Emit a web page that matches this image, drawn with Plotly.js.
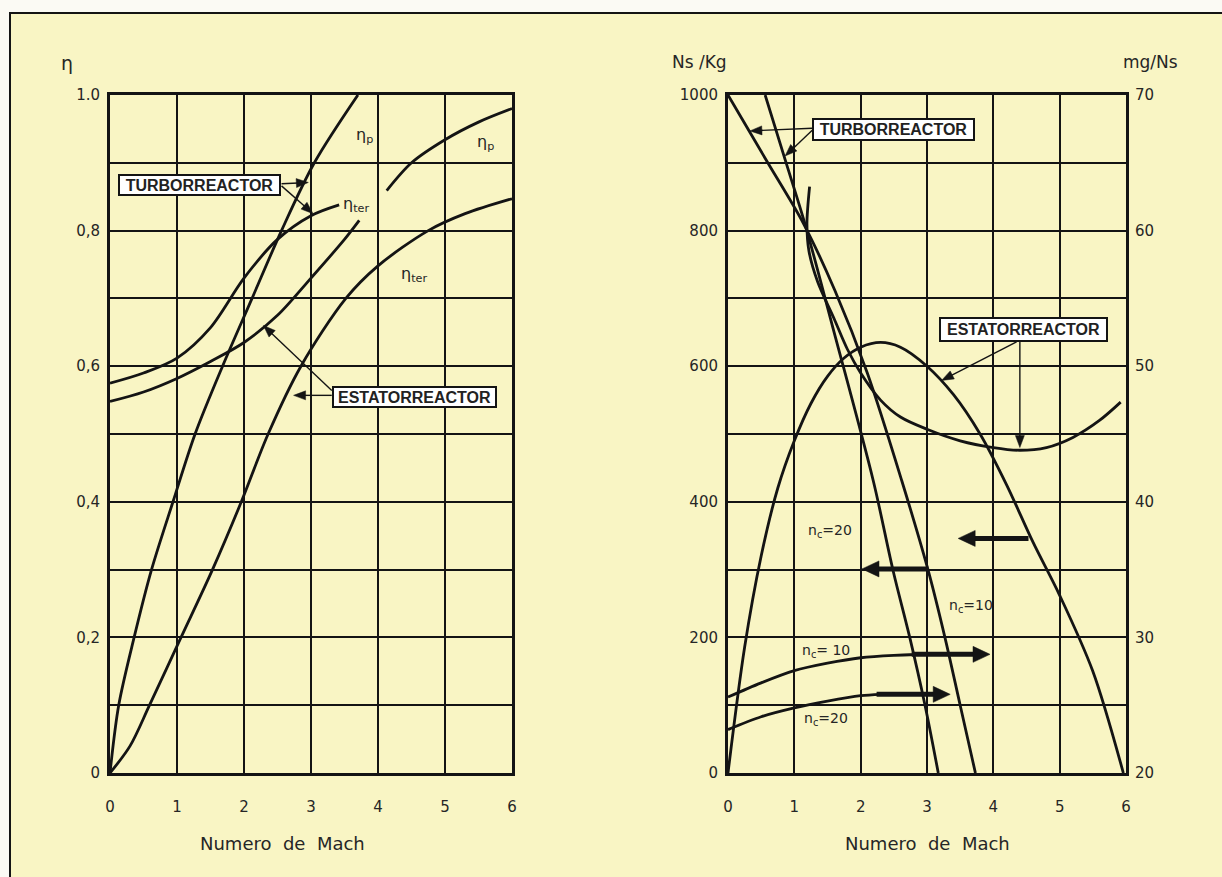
<!DOCTYPE html>
<html><head><meta charset="utf-8">
<script src="https://cdn.plot.ly/plotly-3.0.1.min.js"></script>
<style>html,body{margin:0;padding:0;background:#fbfaf4;}#chart{width:1222px;height:877px;}</style>
</head><body><div id="chart"></div>
<script>
// ---------- tick labels ----------
const machTicks = [0, 1, 2, 3, 4, 5, 6];
const machTickText = ['0', '1', '2', '3', '4', '5', '6'];
const etaTicks = [0, 0.2, 0.4, 0.6, 0.8, 1.0];
const etaTickText = ['0', '0,2', '0,4', '0,6', '0,8', '1.0'];
const thrustTicks = [0, 200, 400, 600, 800, 1000];
const thrustTickText = ['0', '200', '400', '600', '800', '1000'];
const tsfcTicks = [20, 30, 40, 50, 60, 70];
const tsfcTickText = ['20', '30', '40', '50', '60', '70'];

// ---------- left chart: efficiencies ----------
const turboEtaP_M = [0, 0.13, 0.36, 0.62, 0.94, 1.27, 1.68, 2.12, 2.56, 3.05, 3.7];
const turboEtaP = [0, 0.10, 0.20, 0.30, 0.40, 0.50, 0.60, 0.70, 0.80, 0.90, 1.0];

const turboEtaTer_M = [0, 0.5, 1.0, 1.5, 2.0, 2.5, 3.0, 3.42];
const turboEtaTer = [0.575, 0.59, 0.612, 0.657, 0.73, 0.787, 0.822, 0.838];

const estatoEtaP_M = [0, 0.5, 1.0, 1.5, 2.0, 2.5, 3.0, 3.5, 3.72, null, 4.13, 4.5, 5.0, 5.5, 6.0];
const estatoEtaP = [0.548, 0.562, 0.582, 0.607, 0.635, 0.675, 0.73, 0.787, 0.815, null, 0.859, 0.90, 0.934, 0.96, 0.98];

const estatoEtaTer_M = [0, 0.3, 0.59, 1.06, 1.53, 1.96, 2.36, 2.85, 3.52, 4.0, 4.75, 5.3, 6.0];
const estatoEtaTer = [0, 0.04, 0.10, 0.20, 0.30, 0.40, 0.50, 0.60, 0.70, 0.748, 0.80, 0.825, 0.847];

// ---------- right chart: specific thrust (Ns/Kg) ----------
const turboF10_M = [0, 0.33, 0.6, 1.14, 1.61, 2.1, 2.62, 3.02, 3.27, 3.5, 3.73];
const turboF10 = [1000, 945, 900, 810, 712, 590, 431, 298, 200, 100, 0];

const turboF20_M = [0.56, 0.86, 1.16, 1.6, 2.19, 2.49, 2.74, 2.97, 3.17];
const turboF20 = [1000, 905, 810, 650, 431, 298, 200, 100, 0];

const estatoF_M = [0, 0.25, 0.5, 0.75, 1.0, 1.25, 1.5, 1.75, 2.0, 2.3, 2.6, 3.0, 3.4, 3.8, 4.2, 4.6, 5.0, 5.5, 5.96];
const estatoF = [0, 185, 320, 420, 490, 545, 585, 612, 628, 635, 628, 600, 558, 500, 425, 340, 262, 150, 0];

// ---------- right chart: consumption (mg/Ns) ----------
const turboC10_M = [0, 0.5, 1.0, 1.5, 2.0, 2.5, 2.85];
const turboC10 = [25.6, 26.65, 27.55, 28.1, 28.5, 28.68, 28.74];

const turboC20_M = [0, 0.5, 1.0, 1.5, 2.0, 2.3];
const turboC20 = [23.2, 24.15, 24.8, 25.3, 25.7, 25.8];

const estatoC_M = [1.23, 1.19, 1.22, 1.35, 1.6, 1.8, 2.0, 2.3, 2.6, 3.0, 3.5, 4.0, 4.4, 4.8, 5.2, 5.6, 5.92];
const estatoC = [63.25, 60.5, 58.5, 56.25, 53.5, 51.25, 49.5, 47.5, 46.25, 45.35, 44.5, 44.0, 43.8, 44.0, 44.75, 46.0, 47.35];

// ---------- styling ----------
const INK = '#141414';
const TXT = '#262626';
const YEL = '#f9f5c4';
const FONT = 'DejaVu Sans';
const curve = {color: INK, width: 2.8, shape: 'spline', smoothing: 0.9};

function tr(x, y, xa, ya) {
  return {x: x, y: y, xaxis: xa, yaxis: ya, type: 'scatter', mode: 'lines',
          line: curve, hoverinfo: 'skip', showlegend: false, connectgaps: false};
}

const data = [
  tr(turboEtaP_M, turboEtaP, 'x', 'y'),
  tr(turboEtaTer_M, turboEtaTer, 'x', 'y'),
  tr(estatoEtaP_M, estatoEtaP, 'x', 'y'),
  tr(estatoEtaTer_M, estatoEtaTer, 'x', 'y'),
  tr(turboF10_M, turboF10, 'x2', 'y2'),
  tr(turboF20_M, turboF20, 'x2', 'y2'),
  tr(estatoF_M, estatoF, 'x2', 'y2'),
  tr(turboC10_M, turboC10, 'x2', 'y3'),
  tr(turboC20_M, turboC20, 'x2', 'y3'),
  tr(estatoC_M, estatoC, 'x2', 'y3')
];

const tickFont = {family: FONT, size: 15, color: TXT};
const gridStyle = {showgrid: true, gridcolor: INK, gridwidth: 2, zeroline: false,
  showline: true, linecolor: INK, linewidth: 3, mirror: true, fixedrange: true,
  tickfont: tickFont, ticks: 'outside', tickcolor: 'rgba(0,0,0,0)'};

const W = 1222, H = 877;
const px = v => v / W, py = v => 1 - v / H;

// pixel geometry of the axes (same numbers as the domains below)
const AX = {
  x: {p0: 110, p1: 512, r0: 0, r1: 6},
  x2: {p0: 728, p1: 1126, r0: 0, r1: 6},
  y: {p0: 773, p1: 95, r0: 0, r1: 1},
  y2: {p0: 773, p1: 95, r0: 0, r1: 1000},
  y3: {p0: 773, p1: 95, r0: 20, r1: 70}
};
function toPx(a, v) { const s = AX[a]; return s.p0 + (v - s.r0) / (s.r1 - s.r0) * (s.p1 - s.p0); }

const shapes = [{type: 'rect', xref: 'paper', yref: 'paper', x0: px(10), x1: 1.05, y0: -0.05, y1: py(13),
  fillcolor: YEL, line: {color: INK, width: 2}, layer: 'below'}];

function arrow(xa, ya, x0, y0, x1, y1, wdt, hl, hw) {
  const X0 = toPx(xa, x0), Y0 = toPx(ya, y0), X1 = toPx(xa, x1), Y1 = toPx(ya, y1);
  const dx = X1 - X0, dy = Y1 - Y0, L = Math.hypot(dx, dy), ux = dx / L, uy = dy / L;
  const bx = X1 - ux * hl, by = Y1 - uy * hl;
  shapes.push({type: 'line', xref: 'paper', yref: 'paper', x0: px(X0), y0: py(Y0),
    x1: px(bx + ux * 2), y1: py(by + uy * 2), line: {color: INK, width: wdt}});
  const path = 'M ' + px(X1) + ' ' + py(Y1) +
    ' L ' + px(bx - uy * hw / 2) + ' ' + py(by + ux * hw / 2) +
    ' L ' + px(bx + uy * hw / 2) + ' ' + py(by - ux * hw / 2) + ' Z';
  shapes.push({type: 'path', xref: 'paper', yref: 'paper', path: path, fillcolor: INK,
    line: {color: INK, width: 0.5}});
}

const annotations = [];
function txt(xref, yref, x, y, text, size, opts) {
  annotations.push(Object.assign({xref: xref, yref: yref, x: x, y: y, text: text, showarrow: false,
    xanchor: 'center', yanchor: 'middle',
    font: {family: FONT, size: size, color: TXT}}, opts || {}));
}
function box(xref, yref, x, y, text, w, h) {
  annotations.push({xref: xref, yref: yref, x: x, y: y, text: text, showarrow: false,
    xanchor: 'center', yanchor: 'middle',
    font: {family: 'Liberation Sans', size: 16, color: '#222', weight: 'bold'},
    bgcolor: 'white', bordercolor: INK, borderwidth: 2, borderpad: 0, width: w, height: h});
}

// axis titles
txt('paper', 'paper', px(67), py(63), 'η', 19);
txt('paper', 'paper', px(699), py(62), 'Ns /Kg', 17);
txt('paper', 'paper', px(1150), py(62), 'mg/Ns', 17);
txt('paper', 'paper', px(282), py(843), 'Numero\u00a0 de\u00a0 Mach', 18);
txt('paper', 'paper', px(927), py(843), 'Numero\u00a0 de\u00a0 Mach', 18);

// left labels and pointers
txt('x', 'y', 3.8, 0.94, 'η<sub>p</sub>', 16);
txt('x', 'y', 5.6, 0.93, 'η<sub>p</sub>', 16);
txt('x', 'y', 3.45, 0.838, 'η<sub>ter</sub>', 16, {xanchor: 'left'});
txt('x', 'y', 4.54, 0.735, 'η<sub>ter</sub>', 16);
arrow('x', 'y', 2.56, 0.869, 2.96, 0.871, 1.4, 12, 9);
arrow('x', 'y', 2.56, 0.866, 3.03, 0.825, 1.4, 12, 9);
arrow('x', 'y', 3.31, 0.557, 2.74, 0.557, 1.4, 12, 9);
arrow('x', 'y', 3.31, 0.564, 2.29, 0.66, 1.4, 12, 9);
box('x', 'y', 1.34, 0.868, 'TURBORREACTOR', 159, 18);
box('x', 'y', 4.54, 0.555, 'ESTATORREACTOR', 161, 18);

// right labels and pointers
txt('x2', 'y2', 1.54, 357, 'n<sub>c</sub>=20', 14);
txt('x2', 'y2', 3.67, 247, 'n<sub>c</sub>=10', 14);
txt('x2', 'y2', 1.48, 180, 'n<sub>c</sub>= 10', 14);
txt('x2', 'y2', 1.48, 80, 'n<sub>c</sub>=20', 14);
arrow('x2', 'y2', 1.27, 951, 0.33, 947, 1.4, 12, 9);
arrow('x2', 'y2', 1.27, 948, 0.86, 910, 1.4, 12, 9);
arrow('x2', 'y2', 4.35, 636, 3.22, 579, 1.4, 12, 9);
arrow('x2', 'y2', 4.4, 636, 4.4, 480, 1.4, 12, 9);
box('x2', 'y2', 2.5, 949, 'TURBORREACTOR', 159, 19);
box('x2', 'y2', 4.46, 654, 'ESTATORREACTOR', 165, 21);
// thick arrows
arrow('x2', 'y2', 3.02, 301, 2.02, 301, 5, 17, 16);
arrow('x2', 'y2', 4.53, 346, 3.47, 346, 5, 17, 16);
arrow('x2', 'y3', 2.77, 28.75, 3.95, 28.75, 5, 17, 16);
arrow('x2', 'y3', 2.24, 25.8, 3.35, 25.8, 5, 17, 16);

const minorGrid = {showgrid: true, gridcolor: INK, gridwidth: 2, ticks: ''};

const layout = {
  width: W, height: H,
  margin: {l: 0, r: 0, t: 0, b: 0},
  paper_bgcolor: '#fbfaf4',
  plot_bgcolor: 'white',
  showlegend: false,
  xaxis: Object.assign({}, gridStyle, {domain: [px(110), px(512)], range: [0, 6], anchor: 'y',
    tickmode: 'array', tickvals: machTicks, ticktext: machTickText, ticklen: 18}),
  yaxis: Object.assign({}, gridStyle, {domain: [py(773), py(95)], range: [0, 1], anchor: 'x',
    tickmode: 'array', tickvals: etaTicks, ticktext: etaTickText, ticklen: 4,
    minor: Object.assign({tick0: 0, dtick: 0.1}, minorGrid)}),
  xaxis2: Object.assign({}, gridStyle, {domain: [px(728), px(1126)], range: [0, 6], anchor: 'y2',
    tickmode: 'array', tickvals: machTicks, ticktext: machTickText, ticklen: 18}),
  yaxis2: Object.assign({}, gridStyle, {domain: [py(773), py(95)], range: [0, 1000], anchor: 'x2',
    tickmode: 'array', tickvals: thrustTicks, ticktext: thrustTickText, ticklen: 4,
    minor: Object.assign({tick0: 0, dtick: 100}, minorGrid)}),
  yaxis3: {overlaying: 'y2', side: 'right', anchor: 'x2', range: [20, 70], showgrid: false,
    zeroline: false, showline: false, fixedrange: true, tickmode: 'array', tickvals: tsfcTicks,
    ticktext: tsfcTickText, ticks: 'outside', ticklen: 5, tickcolor: 'rgba(0,0,0,0)',
    tickfont: tickFont},
  shapes: shapes,
  annotations: annotations
};

Plotly.newPlot('chart', data, layout, {staticPlot: true, displayModeBar: false});
</script></body></html>
